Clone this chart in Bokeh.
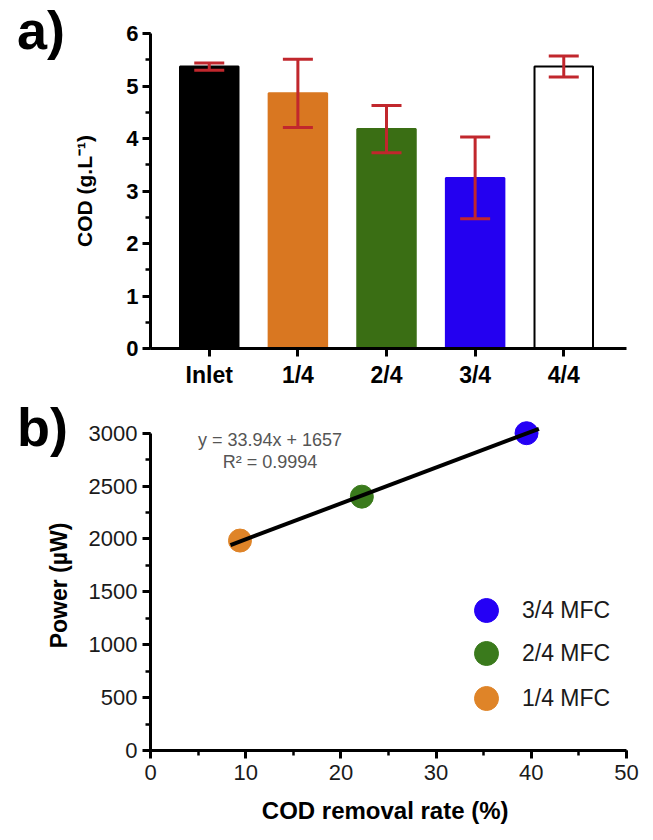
from bokeh.plotting import figure
from bokeh.layouts import column
from bokeh.models import (ColumnDataSource, Whisker, Label, FixedTicker, Range1d,
                          Legend, LegendItem, SingleIntervalTicker, Div)
from bokeh.embed import file_html
from bokeh.resources import INLINE

# ---- data, panel a ----
categories = ["Inlet", "1/4", "2/4", "3/4", "4/4"]
cod_mean = [5.37, 4.86, 4.18, 3.25, 5.37]
cod_err = [0.07, 0.65, 0.45, 0.78, 0.20]
bar_colors = ["#000000", "#D97721", "#3A6E14", "#2400F0", "#FFFFFF"]
bar_lines = ["#000000", "#D97721", "#3A6E14", "#2400F0", "#000000"]

# ---- data, panel b ----
mfc_labels = ["1/4 MFC", "2/4 MFC", "3/4 MFC"]
removal_rate = [9.4, 22.2, 39.5]
power_uw = [1985, 2400, 3000]
point_colors = ["#DF8428", "#3A7A1C", "#2500F5"]
fit_slope = 33.94
fit_intercept = 1657
fit_x = [8.4, 40.8]

BOLD_FONT = "Liberation Sans"
REG_FONT = "Liberation Sans"

def style_axis(ax):
    ax.axis_line_width = 3
    ax.axis_line_color = "black"
    ax.major_tick_line_width = 3
    ax.major_tick_out = 8
    ax.major_tick_in = 0
    ax.minor_tick_line_width = 2.5
    ax.minor_tick_out = 5
    ax.minor_tick_in = 0

W = 653
# ---------------- panel a ----------------
pa = figure(width=W, height=395, output_backend="svg", toolbar_location=None,
            x_range=Range1d(-0.663, 4.708), y_range=Range1d(0, 6),
            min_border_left=150, min_border_right=25, min_border_top=33,
            min_border_bottom=47)
pa.outline_line_color = None
pa.grid.visible = False

xs = list(range(len(categories)))
src_a = ColumnDataSource(dict(x=xs, top=cod_mean, color=bar_colors, lc=bar_lines,
                              upper=[m + e for m, e in zip(cod_mean, cod_err)],
                              lower=[m - e for m, e in zip(cod_mean, cod_err)]))
pa.vbar(x="x", top="top", width=0.66, source=src_a, fill_color="color",
        line_color="lc", line_width=2)
wh = Whisker(base="x", upper="upper", lower="lower", source=src_a,
             line_color="#C1272D", line_width=3, level="overlay")
for head in (wh.upper_head, wh.lower_head):
    head.line_color = "#C1272D"
    head.line_width = 3
    head.size = 30
pa.add_layout(wh)

style_axis(pa.xaxis[0])
style_axis(pa.yaxis[0])
pa.xaxis.ticker = FixedTicker(ticks=xs)
pa.xaxis.major_label_overrides = {i: c for i, c in enumerate(categories)}
pa.xaxis.minor_tick_line_color = None
for ax in (pa.xaxis[0], pa.yaxis[0]):
    ax.major_label_text_font = BOLD_FONT
    ax.major_label_text_font_style = "bold"
    ax.major_label_text_color = "black"
pa.xaxis.major_label_text_font_size = "23px"
pa.yaxis.major_label_text_font_size = "22px"
pa.xaxis.major_label_standoff = 5
pa.yaxis.ticker = SingleIntervalTicker(interval=1, num_minor_ticks=2)
pa.yaxis.major_label_standoff = 4
pa.yaxis.axis_label = "COD (g.L\u207b\u00b9)"
pa.yaxis.axis_label_text_font = BOLD_FONT
pa.yaxis.axis_label_text_font_style = "bold"
pa.yaxis.axis_label_text_font_size = "21px"
pa.yaxis.axis_label_text_color = "black"
pa.yaxis.axis_label_standoff = 27

# ---------------- panel b ----------------
pb = figure(width=W, height=440, output_backend="svg", toolbar_location=None,
            x_range=Range1d(0, 50), y_range=Range1d(0, 3120),
            min_border_left=150, min_border_right=27, min_border_top=25,
            min_border_bottom=85)
pb.outline_line_color = None
pb.grid.visible = False

renderers = []
for i in range(len(mfc_labels)):
    r = pb.scatter(x=[removal_rate[i]], y=[power_uw[i]], size=23, marker="circle",
                   fill_color=point_colors[i], line_color=point_colors[i])
    renderers.append(r)

fit_y = [fit_slope * v + fit_intercept for v in fit_x]
pb.line(fit_x, fit_y, line_color="black", line_width=4)

style_axis(pb.xaxis[0])
style_axis(pb.yaxis[0])
pb.yaxis.bounds = (0, 3000)
pb.xaxis.ticker = SingleIntervalTicker(interval=10, num_minor_ticks=2)
pb.yaxis.ticker = SingleIntervalTicker(interval=500, num_minor_ticks=2)
for ax in (pb.xaxis[0], pb.yaxis[0]):
    ax.major_label_text_font = REG_FONT
    ax.major_label_text_font_size = "22px"
    ax.major_label_text_color = "#1a1a1a"
    ax.axis_label_text_font = BOLD_FONT
    ax.axis_label_text_font_style = "bold"
    ax.axis_label_text_color = "black"
pb.xaxis.axis_label_text_font_size = "24px"
pb.yaxis.axis_label_text_font_size = "23px"
pb.xaxis.major_label_standoff = 6
pb.yaxis.major_label_standoff = 5
pb.yaxis.axis_label = "Power (\u00b5W)"
pb.yaxis.axis_label_standoff = 14
pb.xaxis.axis_label = "COD removal rate  (%)"
pb.xaxis.axis_label_standoff = 14

pb.add_layout(Label(x=12.55, y=2940, text="y = 33.94x + 1657", text_align="center",
                    text_baseline="middle", text_font=REG_FONT,
                    text_font_size="18px", text_color="#555555"))
pb.add_layout(Label(x=12.55, y=2732, text="R\u00b2 = 0.9994", text_align="center",
                    text_baseline="middle", text_font=REG_FONT,
                    text_font_size="18px", text_color="#555555"))

legend_y = [22, 67, 110]  # screen offsets of the legend rows (1/4, 2/4, 3/4)
for i in range(len(mfc_labels)):
    lg = Legend(items=[LegendItem(label=mfc_labels[i], renderers=[renderers[i]])],
                location=(306, legend_y[i]), glyph_width=60, glyph_height=60,
                label_standoff=6, padding=0, margin=0,
                border_line_alpha=0, background_fill_alpha=0,
                label_text_font=REG_FONT, label_text_font_size="23px",
                label_text_color="#1a1a1a")
    pb.add_layout(lg)

# ---------------- panel letters ----------------
def panel_letter(txt, top):
    return Div(text=txt, styles={"position": "absolute", "left": "12px", "top": f"{top}px",
                                 "font-family": BOLD_FONT, "font-weight": "bold",
                                 "font-size": "54px", "line-height": "1.1", "color": "black",
                                 "z-index": "10"})

layout = column(pa, pb, panel_letter("a)", -4), panel_letter("b)", 393), spacing=0)
open("out.html", "w").write(file_html(layout, INLINE))
